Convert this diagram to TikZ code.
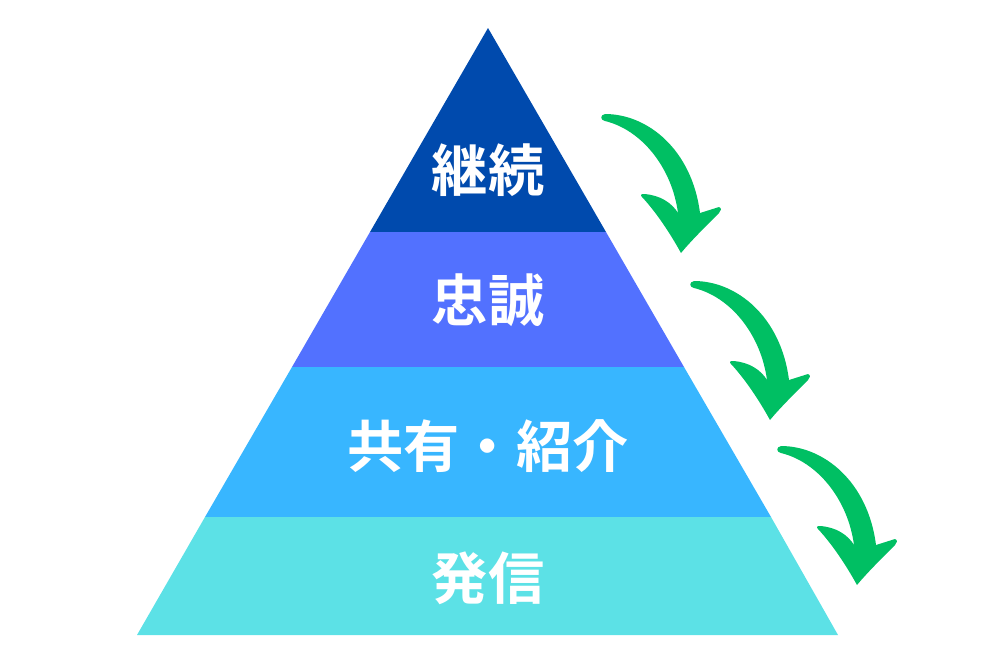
\documentclass[tikz,border=0pt]{standalone}
\usepackage{fontspec}
\newfontfamily\cjk{Noto Sans CJK JP}[BoldFont={Noto Sans CJK JP Bold}]
\definecolor{layertop}{HTML}{004AAD}
\definecolor{layertwo}{HTML}{5271FF}
\definecolor{layerthree}{HTML}{38B6FF}
\definecolor{layerbase}{HTML}{5CE1E6}
\definecolor{arrowgreen}{HTML}{00BF63}

\begin{document}
\begin{tikzpicture}[x=0.02cm, y=-0.02cm,
  layerlabel/.style={text=white, inner sep=0pt, font=\cjk\bfseries\fontsize{32}{38}\selectfont}]
  \useasboundingbox (0,0) rectangle (1000,664);

  % pyramid layers
  \fill[layertop]   (488,28)  -- (606,232) -- (370,232) -- cycle;
  \fill[layertwo]   (370,232) -- (606,232) -- (684,367) -- (292,367) -- cycle;
  \fill[layerthree] (292,367) -- (684,367) -- (771,517) -- (205,517) -- cycle;
  \fill[layerbase]  (205,517) -- (771,517) -- (838,635) -- (137,635) -- cycle;

  \node[layerlabel] (keizoku) at (488,170) {継続};
  \node[layerlabel] (chusei)  at (488,300) {忠誠};
  \node[layerlabel] (kyoyu)   at (488,446) {共有・紹介};
  \node[layerlabel] (hasshin) at (488,578) {発信};

  % curved arrows down the right side
  \foreach \dx/\dy in {0/0, 89/167, 176/332}
    \fill[arrowgreen, shift={(\dx,\dy)}]
      (605,114) .. controls (648,114) and (692,150) .. (700,213)
      -- (719,207) .. controls (722,208) and (721,211) .. (719,213)
      .. controls (704,228) and (690,242) .. (681,253)
      .. controls (670,233) and (656,212) .. (642,197)
      .. controls (640,195) and (641,194) .. (644,194)
      .. controls (660,195) and (672,203) .. (678,213)
      .. controls (672,168) and (642,130) .. (605,121)
      .. controls (600,120) and (600,115) .. (605,114) -- cycle;
\end{tikzpicture}
\end{document}
